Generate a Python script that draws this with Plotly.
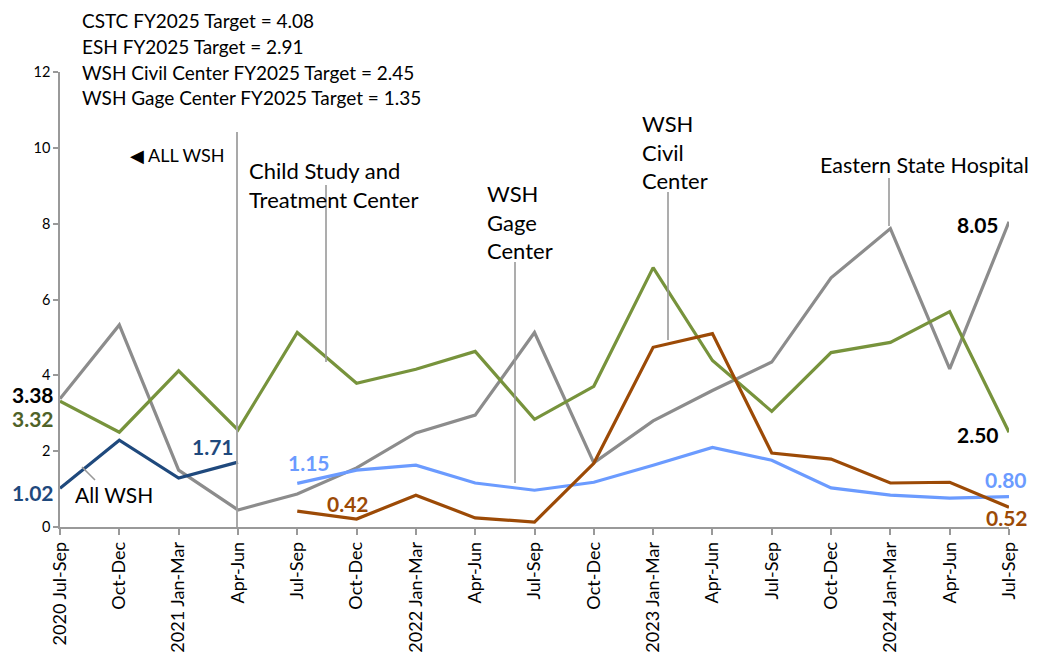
import plotly.graph_objects as go

categories = ["2020 Jul-Sep", "Oct-Dec", "2021 Jan-Mar", "Apr-Jun", "Jul-Sep", "Oct-Dec",
              "2022 Jan-Mar", "Apr-Jun", "Jul-Sep", "Oct-Dec", "2023 Jan-Mar", "Apr-Jun",
              "Jul-Sep", "Oct-Dec", "2024 Jan-Mar", "Apr-Jun", "Jul-Sep"]

esh = [3.38, 5.33, 1.50, 0.45, 0.87, 1.56, 2.48, 2.95, 5.13, 1.69, 2.80, 3.60, 4.35, 6.57, 7.87, 4.17, 8.05]
cstc = [3.32, 2.50, 4.12, 2.56, 5.13, 3.79, 4.16, 4.63, 2.84, 3.71, 6.84, 4.39, 3.05, 4.60, 4.87, 5.68, 2.50]
all_wsh = [1.02, 2.29, 1.29, 1.71]
gage = [None, None, None, None, 1.15, 1.50, 1.63, 1.16, 0.97, 1.18, 1.63, 2.10, 1.76, 1.03, 0.84, 0.76, 0.80]
civil = [None, None, None, None, 0.42, 0.21, 0.84, 0.24, 0.13, 1.68, 4.74, 5.10, 1.95, 1.79, 1.16, 1.18, 0.52]

targets = ["CSTC FY2025 Target = 4.08", "ESH FY2025 Target = 2.91",
           "WSH Civil Center FY2025 Target = 2.45", "WSH Gage Center FY2025 Target = 1.35"]

GRAY = "#8c8c8c"
GREEN = "#77933c"
DBLUE = "#1f497d"
LBLUE = "#6b9bff"
ORANGE = "#9c4a06"
FONT = "Lato"

x = list(range(len(categories)))

fig = go.Figure()
fig.add_trace(go.Scatter(x=x, y=esh, mode="lines", line=dict(color=GRAY, width=3.2), name="ESH"))
fig.add_trace(go.Scatter(x=x, y=cstc, mode="lines", line=dict(color=GREEN, width=3.2), name="CSTC"))
fig.add_trace(go.Scatter(x=x[:4], y=all_wsh, mode="lines", line=dict(color=DBLUE, width=3.2), name="All WSH"))
fig.add_trace(go.Scatter(x=x, y=gage, mode="lines", line=dict(color=LBLUE, width=3.2), name="Gage"))
fig.add_trace(go.Scatter(x=x, y=civil, mode="lines", line=dict(color=ORANGE, width=3.2), name="Civil"))

# page body margin offset (8px) compensation; coordinates below are screenshot pixels
OFF = 8
W, H = 1038 - 2 * OFF, 662 - 2 * OFF
L, R, T, B = 60, 1009, 72, 527  # plot area in screenshot pixels

def px(v):
    return (v - L) / (R - L)
def py(v):
    return (B - v) / (B - T)

ann = []
def text(xp, yp, s, size=20, color="black", bold=False, xanchor="left"):
    if bold:
        s = "<b>" + s + "</b>"
    ann.append(dict(x=px(xp), y=py(yp), xref="paper", yref="paper", text=s, showarrow=False,
                    xanchor=xanchor, yanchor="middle", align="left", borderpad=0,
                    font=dict(family=FONT, size=size, color=color)))

# target text block
for i, t in enumerate(targets):
    text(81, 21 + i * 25.5, t, size=19)

# callout labels
text(248, 185, "Child Study and<br>Treatment Center", size=22)
text(486, 222, "WSH<br>Gage<br>Center", size=22)
text(641, 152, "WSH<br>Civil<br>Center", size=22)
text(1030, 165, "Eastern State Hospital", size=21.5, xanchor="right")
text(74, 494, "All WSH", size=21)
text(129, 155, "◀ ALL WSH", size=18)

# data labels
text(55, 395, "3.38", size=21, color="black", bold=True, xanchor="right")
text(55, 418, "3.32", size=21, color="#4f6228", bold=True, xanchor="right")
text(55, 492, "1.02", size=21, color=DBLUE, bold=True, xanchor="right")
text(191, 446, "1.71", size=21, color=DBLUE, bold=True)
text(287, 462, "1.15", size=21, color=LBLUE, bold=True)
text(326, 503, "0.42", size=21, color=ORANGE, bold=True)
text(956, 224, "8.05", size=21, color="black", bold=True)
text(956, 434, "2.50", size=21, color="black", bold=True)
text(1028, 479, "0.80", size=21, color=LBLUE, bold=True, xanchor="right")
text(1029, 517, "0.52", size=21, color=ORANGE, bold=True, xanchor="right")

shapes = []
def seg(x0p, y0p, x1p, y1p, color="#999999", width=1.6):
    shapes.append(dict(type="line", xref="paper", yref="paper",
                       x0=px(x0p), y0=py(y0p), x1=px(x1p), y1=py(y1p),
                       line=dict(color=color, width=width)))

seg(326, 185, 326, 362)
seg(515, 262, 515, 483)
seg(668, 192, 668, 340)
seg(889, 178, 889, 226)
seg(82, 467, 95, 480)
seg(237, 132, 237, 527, color="#a0a0a0", width=1.8)

fig.update_layout(
    width=W, height=H,
    margin=dict(l=L - OFF, r=(W + OFF) - R, t=T - OFF, b=(H + OFF) - B, autoexpand=False),
    paper_bgcolor="white", plot_bgcolor="white",
    showlegend=False,
    annotations=ann, shapes=shapes,
    font=dict(family=FONT, size=16, color="black"),
    xaxis=dict(range=[0, 16], tickmode="array", tickvals=x, ticktext=categories,
               tickangle=-90, showgrid=False, zeroline=False,
               showline=True, linecolor="#999999", linewidth=1.5,
               ticks="outside", ticklen=6, tickcolor="#999999", tickwidth=1.5,
               tickfont=dict(family=FONT, size=18, color="black"), automargin=False),
    yaxis=dict(range=[0, 12], tickvals=[0, 2, 4, 6, 8, 10, 12], showgrid=False, zeroline=False,
               showline=True, linecolor="#999999", linewidth=1.5,
               ticks="outside", ticklen=5, tickcolor="#999999", tickwidth=1.5,
               tickfont=dict(family=FONT, size=14.5, color="black"), automargin=False),
)

fig.write_html("out.html")
